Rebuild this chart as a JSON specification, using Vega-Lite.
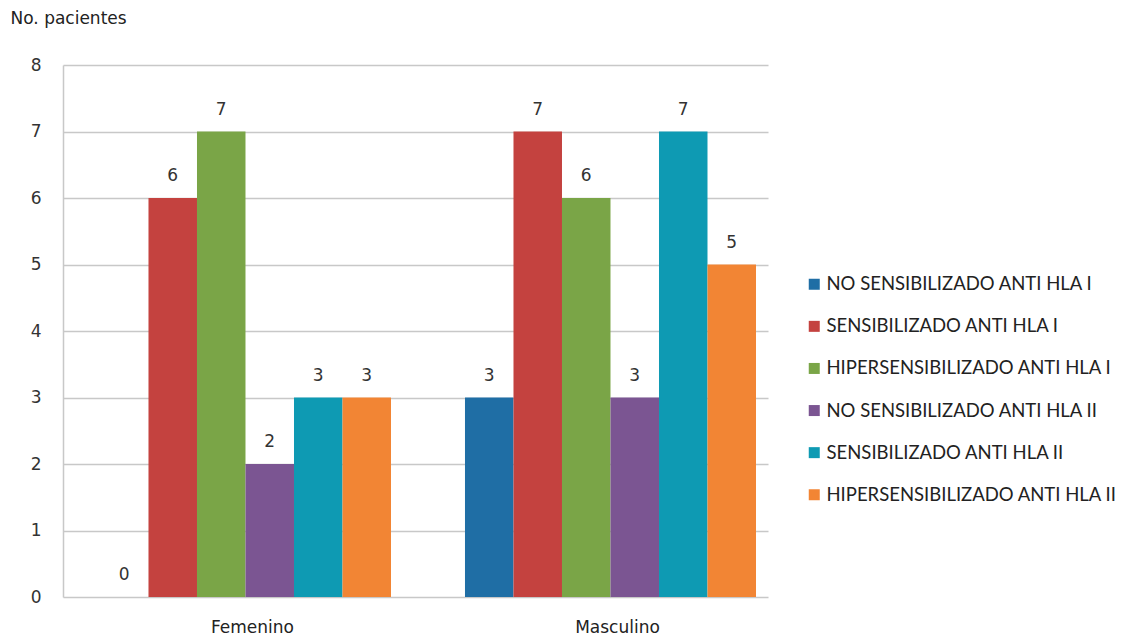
{
  "$schema": "https://vega.github.io/schema/vega-lite/v6.json",
  "width": 705,
  "height": 532,
  "autosize": {"type": "none"},
  "padding": {"left": 63, "top": 65, "right": 365, "bottom": 43},
  "background": "white",
  "view": {"stroke": null},
  "data": {
    "values": [
      {"sexo": "Femenino", "grupo": "NO SENSIBILIZADO ANTI HLA I", "orden": 1, "n": 0},
      {"sexo": "Femenino", "grupo": "SENSIBILIZADO ANTI HLA I", "orden": 2, "n": 6},
      {"sexo": "Femenino", "grupo": "HIPERSENSIBILIZADO ANTI HLA I", "orden": 3, "n": 7},
      {"sexo": "Femenino", "grupo": "NO SENSIBILIZADO ANTI HLA II", "orden": 4, "n": 2},
      {"sexo": "Femenino", "grupo": "SENSIBILIZADO ANTI HLA II", "orden": 5, "n": 3},
      {"sexo": "Femenino", "grupo": "HIPERSENSIBILIZADO ANTI HLA II", "orden": 6, "n": 3},
      {"sexo": "Masculino", "grupo": "NO SENSIBILIZADO ANTI HLA I", "orden": 1, "n": 3},
      {"sexo": "Masculino", "grupo": "SENSIBILIZADO ANTI HLA I", "orden": 2, "n": 7},
      {"sexo": "Masculino", "grupo": "HIPERSENSIBILIZADO ANTI HLA I", "orden": 3, "n": 6},
      {"sexo": "Masculino", "grupo": "NO SENSIBILIZADO ANTI HLA II", "orden": 4, "n": 3},
      {"sexo": "Masculino", "grupo": "SENSIBILIZADO ANTI HLA II", "orden": 5, "n": 7},
      {"sexo": "Masculino", "grupo": "HIPERSENSIBILIZADO ANTI HLA II", "orden": 6, "n": 5}
    ]
  },
  "encoding": {
    "x": {
      "field": "sexo",
      "type": "nominal",
      "scale": {"paddingInner": 0.2027, "paddingOuter": 0.0671, "align": 0.755},
      "axis": {
        "title": null,
        "domain": false,
        "ticks": false,
        "labelAngle": 0,
        "labelFont": "DejaVu Sans",
        "labelFontSize": 17,
        "labelColor": "#222222",
        "labelPadding": 22,
        "labelOffset": 7
      }
    },
    "xOffset": {
      "field": "grupo",
      "type": "nominal",
      "sort": {"field": "orden"},
      "scale": {"paddingInner": 0, "paddingOuter": 0}
    },
    "y": {
      "field": "n",
      "type": "quantitative",
      "scale": {"domain": [0, 8], "nice": false},
      "axis": {
        "title": "No. pacientes",
        "titleAngle": 0,
        "titleAlign": "left",
        "titleBaseline": "middle",
        "titleX": -53,
        "titleY": -47,
        "titleFont": "DejaVu Sans",
        "titleFontSize": 17,
        "titleFontWeight": "normal",
        "titleColor": "#222222",
        "values": [0, 1, 2, 3, 4, 5, 6, 7, 8],
        "labelOverlap": false,
        "ticks": false,
        "labelPadding": 22,
        "labelFont": "DejaVu Sans",
        "labelFontSize": 17,
        "labelColor": "#333333",
        "domainColor": "#C8C8C8",
        "domainWidth": 1.5,
        "gridColor": "#C8C8C8",
        "gridWidth": 1.5
      }
    }
  },
  "layer": [
    {
      "mark": {"type": "bar"},
      "encoding": {
        "color": {
          "field": "grupo",
          "type": "nominal",
          "sort": {"field": "orden"},
          "scale": {
            "domain": [
              "NO SENSIBILIZADO ANTI HLA I",
              "SENSIBILIZADO ANTI HLA I",
              "HIPERSENSIBILIZADO ANTI HLA I",
              "NO SENSIBILIZADO ANTI HLA II",
              "SENSIBILIZADO ANTI HLA II",
              "HIPERSENSIBILIZADO ANTI HLA II"
            ],
            "range": ["#1F6EA5", "#C4423F", "#7AA547", "#7B5592", "#0E9AB3", "#F28534"]
          },
          "legend": {
            "title": null,
            "orient": "none",
            "legendX": 742,
            "legendY": 210,
            "symbolType": "square",
            "symbolSize": 121,
            "symbolStrokeWidth": 0,
            "symbolOpacity": 1,
            "labelFont": "Lato",
            "labelFontSize": 18.5,
            "labelColor": "#222222",
            "labelLimit": 400,
            "labelOffset": 3,
            "rowPadding": 23.1
          }
        }
      }
    },
    {
      "mark": {
        "type": "text",
        "baseline": "bottom",
        "dy": -13,
        "font": "DejaVu Sans",
        "fontSize": 17,
        "color": "#333333"
      },
      "encoding": {
        "text": {"field": "n", "type": "quantitative"}
      }
    }
  ]
}
